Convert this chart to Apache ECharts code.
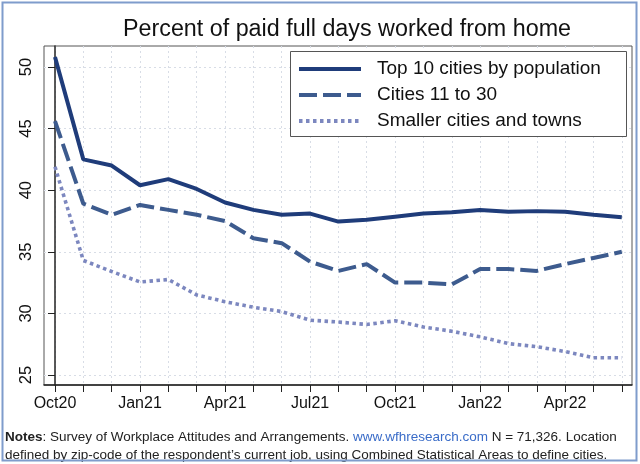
<!DOCTYPE html>
<html>
<head>
<meta charset="utf-8">
<script src="https://cdn.jsdelivr.net/npm/echarts@6/dist/echarts.min.js"></script>
<style>
html,body{margin:0;padding:0;background:#fff;}
#c{width:640px;height:464px;}
</style>
</head>
<body>
<div id="c"></div>
<script>
var months = ['Oct20','Nov20','Dec20','Jan21','Feb21','Mar21','Apr21','May21','Jun21','Jul21','Aug21','Sep21','Oct21','Nov21','Dec21','Jan22','Feb22','Mar22','Apr22','May22','Jun22'];
var xTickLabels = ['Oct20','Jan21','Apr21','Jul21','Oct21','Jan22','Apr22'];
var yTickValues = [25,30,35,40,45,50];
var top10 = [50.8,42.5,42.0,40.4,40.9,40.1,39.0,38.4,38.0,38.1,37.45,37.6,37.85,38.1,38.2,38.4,38.25,38.3,38.25,38.0,37.8];
var cities11to30 = [45.6,38.9,38.0,38.8,38.4,38.0,37.5,36.1,35.7,34.2,33.45,34.0,32.5,32.5,32.35,33.6,33.6,33.45,34.0,34.5,35.0];
var smaller = [41.9,34.3,33.4,32.55,32.75,31.5,30.95,30.5,30.15,29.45,29.3,29.1,29.4,28.9,28.55,28.1,27.55,27.3,26.9,26.4,26.4];
var seriesNames = ['Top 10 cities by population','Cities 11 to 30','Smaller cities and towns'];

var chart = echarts.init(document.getElementById('c'), null, {renderer:'canvas'});
var font = 'Liberation Sans, Arial, Helvetica, sans-serif';
function pairs(arr){ return arr.map(function(v,i){ return [i, v]; }); }
var monthIdx = months.map(function(m,i){ return i; });
var labelIdx = xTickLabels.map(function(l){ return months.indexOf(l); });

var gridLine = {show:true, lineStyle:{color:'#d8dde6', width:1, type:[2,3]}};

chart.setOption({
  animation:false,
  backgroundColor:'#fff',
  textStyle:{fontFamily:font},
  title:{
    text:'Percent of paid full days worked from home',
    left:342, textAlign:'center', top:13,
    textStyle:{fontFamily:font, fontSize:23.3, fontWeight:'normal', color:'#111'}
  },
  grid:{left:44, top:46, right:8, bottom:79, show:true, borderColor:'#555', borderWidth:1, backgroundColor:'#fff'},
  xAxis:{
    type:'value', min:-0.388, max:20.36,
    axisLine:{show:true, onZero:false, lineStyle:{color:'#222', width:1.5}},
    axisTick:{show:true, length:7, customValues:monthIdx, lineStyle:{color:'#222', width:1}},
    axisLabel:{show:true, customValues:labelIdx, margin:11, fontSize:16, color:'#111', fontFamily:font,
      formatter:function(v){ return months[Math.round(v)]; }},
    splitLine:gridLine
  },
  yAxis:{
    type:'value', min:24.19, max:51.7,
    axisLine:{show:true, lineStyle:{color:'#222', width:1.5}},
    axisTick:{show:true, length:7, customValues:yTickValues, lineStyle:{color:'#222', width:1}},
    axisLabel:{show:true, customValues:yTickValues, rotate:90, margin:9, fontSize:16.5, color:'#111', fontFamily:font},
    splitLine:gridLine
  },
  legend:{
    orient:'vertical', left:297, top:58,
    itemWidth:62, itemHeight:14, itemGap:4,
    data:seriesNames,
    itemStyle:{opacity:0},
    lineStyle:{width:4},
    textStyle:{fontFamily:font, fontSize:19, color:'#111', lineHeight:22, padding:[0,0,0,11]},
    borderWidth:0, padding:0
  },
  graphic:[
    {type:'rect', shape:{x:2.5, y:2.5, width:634, height:458}, style:{fill:'none', stroke:'#7f9ccc', lineWidth:2}, silent:true, z:100},
    {type:'rect', shape:{x:290.5, y:51.5, width:336, height:85}, style:{fill:'#fff', stroke:'#555', lineWidth:1}, z:4},
    {type:'text', left:5, top:428, z:10,
      style:{
        text:'{b|Notes}: Survey of Workplace Attitudes and Arrangements. {u|www.wfhresearch.com} N = 71,326. Location\ndefined by zip-code of the respondent\u2019s current job, using Combined Statistical Areas to define cities.',
        fontFamily:font, fontSize:13.5, fill:'#222', lineHeight:18,
        rich:{
          b:{fontWeight:'bold', fontFamily:font, fontSize:13.5, fill:'#222', lineHeight:18},
          u:{fontFamily:font, fontSize:13.5, fill:'#3a6cc8', lineHeight:18}
        }
      }
    }
  ],
  series:[
    {name:seriesNames[0], type:'line', data:pairs(top10), showSymbol:false, symbol:'none',
      lineStyle:{color:'#1f3c7a', width:4}, itemStyle:{color:'#1f3c7a'}, z:3},
    {name:seriesNames[1], type:'line', data:pairs(cities11to30), showSymbol:false, symbol:'none',
      lineStyle:{color:'#3d5b8e', width:4, type:[18,6], cap:'butt'}, itemStyle:{color:'#3d5b8e'}, z:3},
    {name:seriesNames[2], type:'line', data:pairs(smaller), showSymbol:false, symbol:'none',
      lineStyle:{color:'#7c87bf', width:3.6, type:[3.5,3.5], cap:'butt'}, itemStyle:{color:'#7c87bf'}, z:3}
  ]
});
</script>
</body>
</html>
